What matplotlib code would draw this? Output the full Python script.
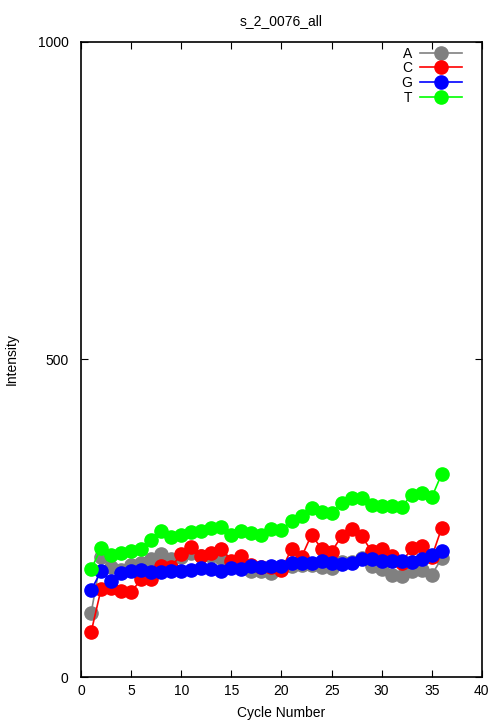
import numpy as np
import matplotlib
matplotlib.use("Agg")
import matplotlib.pyplot as plt

cycles = np.arange(1, 37)
A = [101, 189, 173, 168, 176, 180, 186, 194, 186, 189, 195, 191, 191, 187, 180, 173, 167, 167,
     164, 172, 175, 176, 176, 173, 172, 181, 181, 187, 175, 170, 161, 159, 167, 168, 161, 187]
C = [71, 139, 140, 135, 134, 154, 154, 175, 173, 194, 205, 191, 195, 202, 183, 191, 176, 173,
     173, 168, 202, 189, 224, 202, 197, 222, 233, 222, 198, 202, 191, 180, 203, 206, 189, 235]
G = [137, 167, 151, 164, 167, 168, 165, 165, 167, 167, 168, 172, 170, 167, 172, 170, 175, 173,
     175, 175, 180, 180, 180, 183, 180, 178, 180, 186, 186, 183, 183, 183, 181, 186, 192, 198]
T = [170, 203, 192, 195, 198, 202, 216, 230, 220, 224, 228, 230, 235, 236, 224, 230, 227, 224,
     233, 231, 246, 254, 266, 260, 258, 274, 282, 282, 271, 269, 269, 268, 287, 290, 283, 320]

series = [("A", A, "#808080"), ("C", C, "#ff0000"), ("G", G, "#0000ff"), ("T", T, "#00ff00")]

plt.rcParams['font.family'] = ['Liberation Sans', 'DejaVu Sans']
fig = plt.figure(figsize=(5.04, 7.2), dpi=100)
ax = fig.add_axes([0.161, 0.0597, 0.795, 0.882])
for name, vals, col in series:
    ax.plot(cycles, vals, '-o', color=col, markersize=9.5, linewidth=1.2, label=name)

ax.set_xlim(0, 40)
ax.set_ylim(0, 1000)
ax.set_xticks(range(0, 41, 5))
ax.set_yticks([0, 500, 1000])
ax.tick_params(direction='in', top=True, right=True, labelsize=10, length=5)
ax.tick_params(axis='y', pad=9)
ax.tick_params(axis='x', pad=5)
for s in ax.spines.values():
    s.set_linewidth(1.2)
ax.set_title("s_2_0076_all", fontsize=10, pad=12)
ax.set_xlabel("Cycle Number", fontsize=10, labelpad=6)
ax.set_ylabel("Intensity", fontsize=10, labelpad=14)
ax.legend(loc='upper right', bbox_to_anchor=(0.975, 1.008), markerfirst=False, frameon=False,
          fontsize=10, handlelength=3, labelspacing=0.05, borderaxespad=0.3, handletextpad=0.6)
plt.savefig("out.png", format="png")
